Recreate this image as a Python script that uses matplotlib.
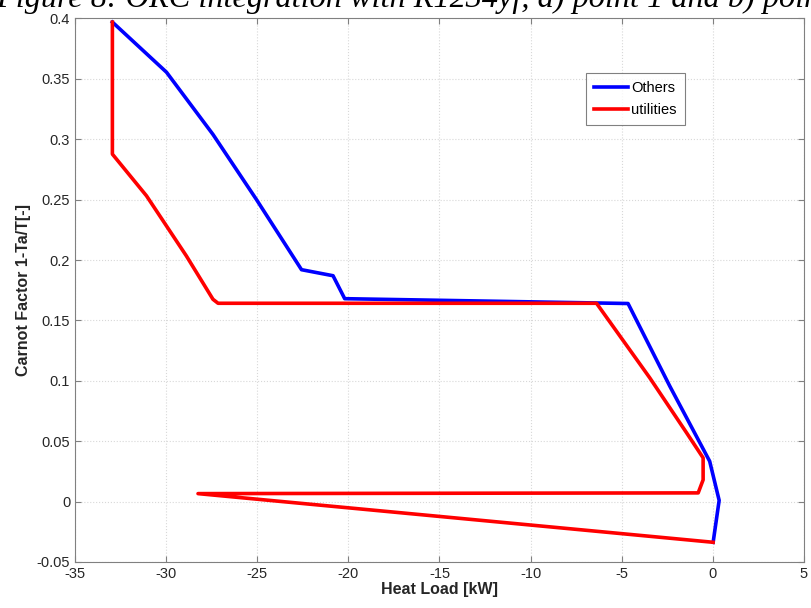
import matplotlib
matplotlib.use('Agg')
import matplotlib.pyplot as plt
from matplotlib.ticker import FuncFormatter

plt.rcParams['font.family'] = ['Liberation Sans', 'DejaVu Sans']
plt.rcParams['axes.unicode_minus'] = False

# composite curves: heat load [kW] vs Carnot factor
others_x = [-32.95, -29.98, -27.43, -25.04, -22.57, -20.84, -20.2, -4.65,
            -2.36, -0.17, 0.35, 0.02]
others_y = [0.397, 0.3555, 0.304, 0.250, 0.192, 0.187, 0.168, 0.164,
            0.0956, 0.0334, 0.001, -0.0337]

utilities_x = [-32.95, -32.95, -31.08, -28.89, -27.43, -27.15, -6.38,
               -3.46, -1.44, -0.53, -0.53, -0.8, -28.25, 0.02]
utilities_y = [0.397, 0.2877, 0.2532, 0.2034, 0.1675, 0.1642, 0.1642,
               0.1025, 0.057, 0.0362, 0.018, 0.0072, 0.0066, -0.0337]

xticks = [-35, -30, -25, -20, -15, -10, -5, 0, 5]
yticks = [-0.05, 0, 0.05, 0.1, 0.15, 0.2, 0.25, 0.3, 0.35, 0.4]

fig = plt.figure(figsize=(8.12, 6.08), dpi=100)
ax = fig.add_axes([0.0924, 0.0757, 0.8976, 0.8939])

ax.plot(others_x, others_y, color='#0000ff', lw=2.6, label='Others')
ax.plot(utilities_x, utilities_y, color='#ff0000', lw=2.6, label='utilities')

ax.set_xlim(-35, 5)
ax.set_ylim(-0.05, 0.4)
ax.set_xticks(xticks)
ax.set_yticks(yticks)
ax.yaxis.set_major_formatter(FuncFormatter(lambda v, p: '%g' % round(v, 3)))
ax.tick_params(direction='in', labelsize=10.5, length=4, top=True, right=True,
               color='#808080', labelcolor='#262626')
ax.grid(True, color='#d8d8d8', linestyle=':', linewidth=0.8)
for s in ax.spines.values():
    s.set_color('#808080')
    s.set_linewidth(0.8)

ax.set_xlabel('Heat Load [kW]', fontsize=11.5, fontweight='bold', labelpad=1,
              color='#262626')
ax.set_ylabel('Carnot Factor 1-Ta/T[-]', fontsize=11.5, fontweight='bold',
              labelpad=4, color='#262626')

leg = ax.legend(loc='upper left', bbox_to_anchor=(0.701, 0.8997),
                fontsize=10.5, frameon=True, fancybox=False,
                handlelength=2.3, borderpad=0.55, labelspacing=0.55,
                handletextpad=0.25, borderaxespad=0)
leg.get_frame().set_edgecolor('#606060')
leg.get_frame().set_linewidth(0.8)

# caption line partly cut off at the top of the page
fig.text(-0.005, 0.9885, 'Figure 8: ORC integration with R1234yf, a) point 1 and b) point 2',
         family=['Liberation Serif', 'DejaVu Serif'], style='italic',
         fontsize=23.2, ha='left', va='baseline')

fig.savefig('out.png', dpi=100)
